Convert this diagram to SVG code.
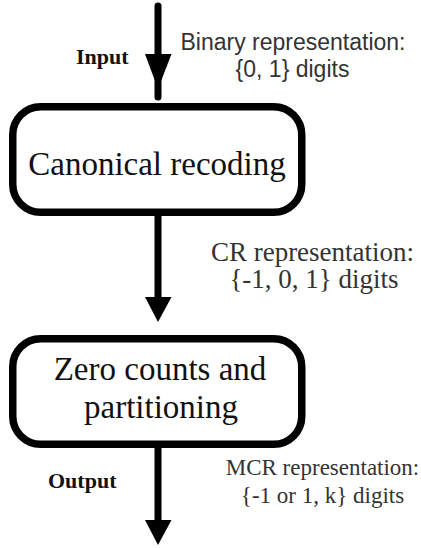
<svg xmlns="http://www.w3.org/2000/svg" width="421" height="548" viewBox="0 0 421 548">
<style>
.box{fill:#fff;stroke:#000;stroke-width:7.5}
.line{stroke:#000;stroke-width:7;stroke-linecap:round;fill:none}
.head{fill:#000}
.node{font-family:"Liberation Serif","Times New Roman",serif;font-size:33px;fill:#111;text-anchor:middle}
.io{font-family:"Liberation Serif","Times New Roman",serif;font-size:22px;font-weight:bold;fill:#111}
.lab{font-family:"Liberation Serif","Times New Roman",serif;fill:#333;text-anchor:middle}
.sans{font-family:"Liberation Sans",Arial,sans-serif;font-size:23px;fill:#333;text-anchor:middle}
</style>
<rect width="421" height="548" fill="#fff"/>
<g id="connectors">
  <line class="line" x1="158" y1="6" x2="158" y2="97"/>
  <polygon class="head" points="145,54 171.5,54 158,89"/>
  <line class="line" x1="158" y1="216" x2="158" y2="300"/>
  <polygon class="head" points="145,297 171.5,297 158,322"/>
  <line class="line" x1="158" y1="448" x2="158" y2="522"/>
  <polygon class="head" points="145,520 171.5,520 158,545"/>
</g>
<g id="input-label">
  <text class="io" x="76" y="64">Input</text>
</g>
<g id="binary-label">
  <text class="sans" x="293" y="50">Binary representation:</text>
  <text class="sans" x="292.5" y="77">{0, 1} digits</text>
</g>
<g id="canonical-recoding">
  <rect class="box" x="12.75" y="106.75" width="289" height="105.5" rx="28" ry="28"/>
  <text class="node" x="157" y="175">Canonical recoding</text>
</g>
<g id="cr-label">
  <text class="lab" x="312.5" y="261" font-size="27">CR representation:</text>
  <text class="lab" x="314" y="288" font-size="27">{-1, 0, 1} digits</text>
</g>
<g id="zero-counts">
  <rect class="box" x="12.75" y="338.75" width="289" height="105.5" rx="28" ry="28"/>
  <text class="node" x="160" y="380">Zero counts and</text>
  <text class="node" x="161" y="418">partitioning</text>
</g>
<g id="output-label">
  <text class="io" x="48" y="488">Output</text>
</g>
<g id="mcr-label">
  <text class="lab" x="322.5" y="475" font-size="23">MCR representation:</text>
  <text class="lab" x="322.5" y="503" font-size="23">{-1 or 1, k} digits</text>
</g>
</svg>
